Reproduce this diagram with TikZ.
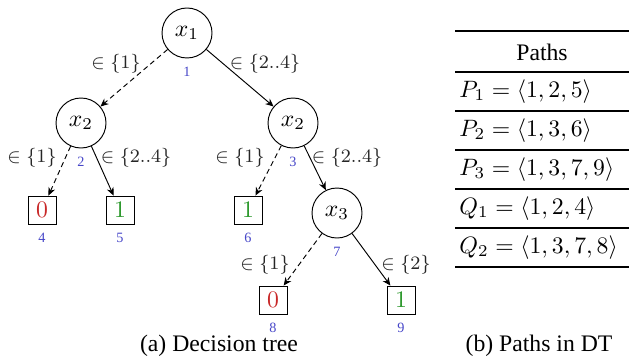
\documentclass[tikz,border=0pt]{standalone}
\usepackage{fontspec}
\IfFontExistsTF{LiberationSerif-Regular.ttf}{%
  \setmainfont{LiberationSerif}[Extension=.ttf,UprightFont=*-Regular,BoldFont=*-Bold,ItalicFont=*-Italic,BoldItalicFont=*-BoldItalic]}{%
  \setmainfont{Liberation Serif}}
\usetikzlibrary{arrows.meta}
\definecolor{numblue}{RGB}{70,70,200}
\definecolor{leafred}{RGB}{200,40,40}
\definecolor{leafgreen}{RGB}{40,150,40}
\begin{document}
\begin{tikzpicture}[x=0.422pt,y=-0.422pt,
  dnode/.style={circle,draw,minimum size=21.1pt,inner sep=0pt},
  leaf/.style={rectangle,draw,minimum size=11.8pt,inner sep=0pt},
  num/.style={font=\fontsize{6}{7}\selectfont,text=numblue,label distance=0pt},
  lbl/.style={font=\footnotesize,text=black!85},
  edgearrow/.style={-{Stealth[length=3.4pt,width=3pt]}},
  dedge/.style={edgearrow,dash pattern=on 2.2pt off 1.5pt},
  heavy/.style={line width=1pt},
  light/.style={line width=0.75pt},
  rowtext/.style={anchor=west}
]
\useasboundingbox (0,0) rectangle (629,358);

% tree nodes
\node[dnode,label={[num]below:1}] (n1) at (187,33) {$x_1$};
\node[dnode,label={[num]below:2}] (n2) at (81,123) {$x_2$};
\node[dnode,label={[num]below:3}] (n3) at (293,123) {$x_2$};
\node[leaf,text=leafred,label={[num]below:4}] (n4) at (42,210) {$0$};
\node[leaf,text=leafgreen,label={[num]below:5}] (n5) at (120,210) {$1$};
\node[leaf,text=leafgreen,label={[num]below:6}] (n6) at (248,210) {$1$};
\node[dnode,label={[num]below:7}] (n7) at (337,213) {$x_3$};
\node[leaf,text=leafred,label={[num]below:8}] (n8) at (273,300) {$0$};
\node[leaf,text=leafgreen,label={[num]below:9}] (n9) at (401,300) {$1$};

% edges
\draw[dedge] (n1) -- (n2);
\draw[edgearrow] (n1) -- (n3);
\draw[dedge] (n2) -- (n4);
\draw[edgearrow] (n2) -- (n5);
\draw[dedge] (n3) -- (n6);
\draw[edgearrow] (n3) -- (n7);
\draw[dedge] (n7) -- (n8);
\draw[edgearrow] (n7) -- (n9);

% edge labels
\node[lbl] (l12) at (116,64) {$\in\{1\}$};
\node[lbl] (l13) at (265,64) {$\in\{2..4\}$};
\node[lbl] (l24) at (32,158) {$\in\{1\}$};
\node[lbl] (l25) at (136,158) {$\in\{2..4\}$};
\node[lbl] (l36) at (240,158) {$\in\{1\}$};
\node[lbl] (l37) at (347,158) {$\in\{2..4\}$};
\node[lbl] (l78) at (265,265) {$\in\{1\}$};
\node[lbl] (l79) at (406,265) {$\in\{2\}$};

% table
\draw[heavy] (455,31) -- (629,31);
\node (th) at (542,52) {Paths};
\draw[light] (455,72) -- (629,72);
\node[rowtext] (p1) at (451,91.5) {$P_1 = \langle 1,2,5\rangle$};
\draw[light] (455,111) -- (629,111);
\node[rowtext] (p2) at (451,130.5) {$P_2 = \langle 1,3,6\rangle$};
\draw[light] (455,150) -- (629,150);
\node[rowtext] (p3) at (451,169.5) {$P_3 = \langle 1,3,7,9\rangle$};
\draw[light] (455,189) -- (629,189);
\node[rowtext] (q1) at (451,208.5) {$Q_1 = \langle 1,2,4\rangle$};
\draw[light] (455,228) -- (629,228);
\node[rowtext] (q2) at (451,247.5) {$Q_2 = \langle 1,3,7,8\rangle$};
\draw[heavy] (455,267) -- (629,267);

% captions
\node (capa) at (219,346) {(a) Decision tree};
\node (capb) at (539,346) {(b) Paths in DT};
\end{tikzpicture}
\end{document}
